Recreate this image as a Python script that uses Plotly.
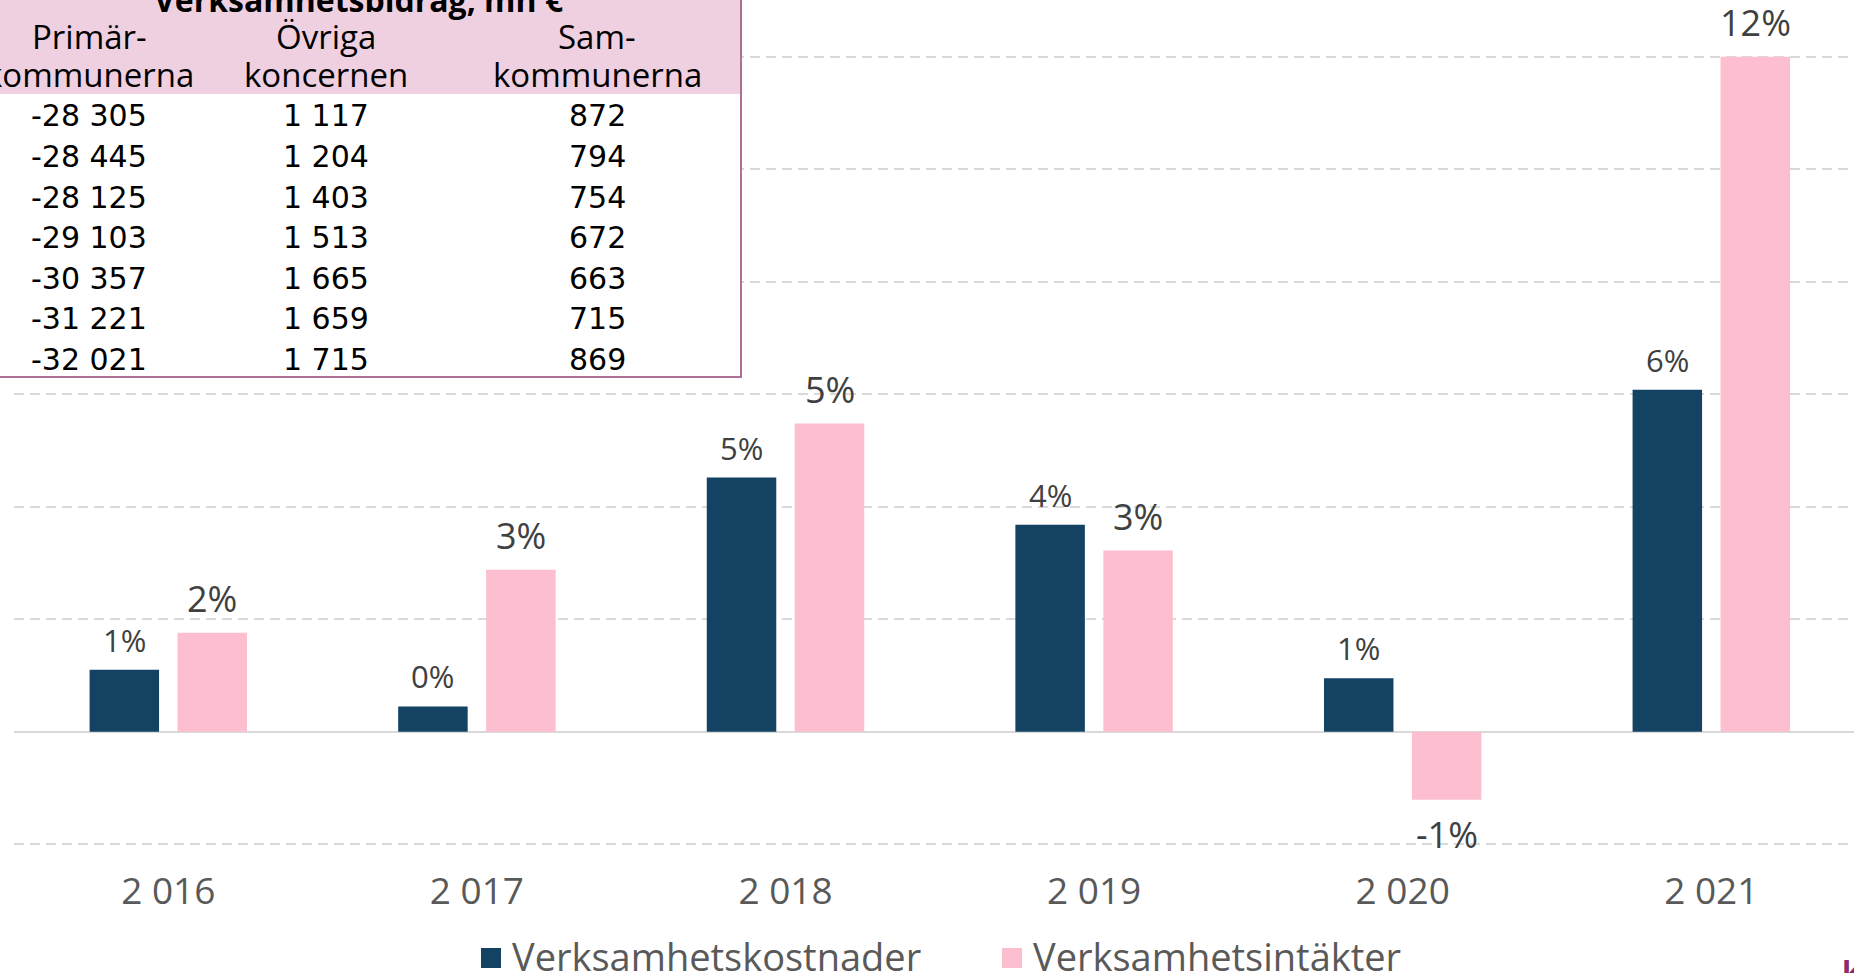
import plotly.graph_objects as go

# ---------------- data ----------------
years = ["2 016", "2 017", "2 018", "2 019", "2 020", "2 021"]
kostnader = [1.10, 0.45, 4.52, 3.68, 0.95, 6.08]      # Verksamhetskostnader, % change
intakter = [1.76, 2.88, 5.48, 3.22, -1.21, 12.00]     # Verksamhetsintäkter, % change
series_names = ["Verksamhetskostnader", "Verksamhetsintäkter"]
series_colors = ["#134263", "#fdbfcf"]

table_title = "Verksamhetsbidrag, mn €"
table_headers = [["Primär-", "kommunerna"], ["Övriga", "koncernen"], ["Sam-", "kommunerna"]]
col_primar = ["-28 305", "-28 445", "-28 125", "-29 103", "-30 357", "-31 221", "-32 021"]
col_ovriga = ["1 117", "1 204", "1 403", "1 513", "1 665", "1 659", "1 715"]
col_sam = ["872", "794", "754", "672", "663", "715", "869"]

# ---------------- geometry ----------------
W, H = 1854, 973
ML, MR, MT, MB = 14, 0, 54, 126
PW, PH = W - ML - MR, H - MT - MB
CAT_PX = 308.6
x_end = -0.5 + PW / CAT_PX


def px(x):
    return (x - ML) / PW


def py(y):
    return (H - MB - y) / PH


FONT = "Open Sans"
LABEL_COLOR = "#404040"
AXIS_COLOR = "#595959"

fig = go.Figure()
fig.add_trace(go.Bar(x=years, y=kostnader, name=series_names[0],
                     marker=dict(color=series_colors[0], line=dict(width=0)),
                     hoverinfo="skip", showlegend=False))
fig.add_trace(go.Bar(x=years, y=intakter, name=series_names[1],
                     marker=dict(color=series_colors[1], line=dict(width=0)),
                     hoverinfo="skip", showlegend=False))

annotations = []
shapes = []

# bar value labels
for yr, v in zip(years, kostnader):
    annotations.append(dict(x=yr, y=v, xref="x", yref="y", xshift=-44,
                            yshift=30 if v >= 0 else -33, yanchor="middle",
                            text=f"{round(v)}%", showarrow=False,
                            font=dict(family=FONT, size=31, color=LABEL_COLOR)))
for yr, v in zip(years, intakter):
    annotations.append(dict(x=yr, y=v, xref="x", yref="y", xshift=44,
                            yshift=34 if v >= 0 else -35, yanchor="middle",
                            text=f"{round(v)}%", showarrow=False,
                            font=dict(family=FONT, size=36, color=LABEL_COLOR)))

# ---------------- table (overlay) ----------------
shapes.append(dict(type="rect", xref="paper", yref="paper", layer="above",
                   x0=px(-30), x1=px(741), y0=py(94), y1=py(-30),
                   fillcolor="#efd0e1", line=dict(width=0)))
shapes.append(dict(type="rect", xref="paper", yref="paper", layer="above",
                   x0=px(-30), x1=px(741), y0=py(377), y1=py(94),
                   fillcolor="#ffffff", line=dict(width=0)))
shapes.append(dict(type="line", xref="paper", yref="paper", layer="above",
                   x0=px(741), x1=px(741), y0=py(378), y1=py(-30),
                   line=dict(color="#b07096", width=2)))
shapes.append(dict(type="line", xref="paper", yref="paper", layer="above",
                   x0=px(-30), x1=px(742), y0=py(377), y1=py(377),
                   line=dict(color="#b07096", width=2)))

annotations.append(dict(x=px(359), y=py(-0.5), xref="paper", yref="paper",
                        xanchor="center", yanchor="middle", showarrow=False,
                        text=f"<b>{table_title}</b>",
                        font=dict(family=FONT, size=32, color="#000000")))

col_x = [89, 326, 597]
for cx, (l1, l2) in zip(col_x, table_headers):
    annotations.append(dict(x=px(cx), y=py(36.5), xref="paper", yref="paper",
                            xanchor="center", yanchor="middle", showarrow=False,
                            text=l1, font=dict(family=FONT, size=33, color="#000000")))
    annotations.append(dict(x=px(cx), y=py(74), xref="paper", yref="paper",
                            xanchor="center", yanchor="middle", showarrow=False,
                            text=l2, font=dict(family=FONT, size=33, color="#000000")))

row_y = [116, 156.3, 197.5, 237.7, 278, 318.2, 359.5]
for cx, col in zip(col_x, [col_primar, col_ovriga, col_sam]):
    for ry, val in zip(row_y, col):
        annotations.append(dict(x=px(cx), y=py(ry), xref="paper", yref="paper",
                                xanchor="center", yanchor="middle", showarrow=False,
                                text=val,
                                font=dict(family="DejaVu Sans", size=30, color="#000000")))

# ---------------- legend (custom) ----------------
legend_items = [(481, 510), (1002, 1031)]
for (sx, tx), name, col in zip(legend_items, series_names, series_colors):
    shapes.append(dict(type="rect", xref="paper", yref="paper", layer="above",
                       x0=px(sx), x1=px(sx + 20), y0=py(968), y1=py(948),
                       fillcolor=col, line=dict(width=0)))
    annotations.append(dict(x=px(tx), y=py(955.5), xref="paper", yref="paper",
                            xanchor="left", yanchor="middle", showarrow=False,
                            text=name, font=dict(family=FONT, size=38, color=AXIS_COLOR)))

# partial logo in the corner
annotations.append(dict(x=px(1840), y=py(971), xref="paper", yref="paper",
                        xanchor="left", yanchor="middle", showarrow=False,
                        text="<b>k</b>", font=dict(family=FONT, size=30, color="#8c2a6a")))

fig.update_layout(
    width=W, height=H,
    margin=dict(l=ML, r=MR, t=MT, b=MB, pad=0),
    paper_bgcolor="#ffffff", plot_bgcolor="#ffffff",
    barmode="group", bargap=0.43, bargroupgap=0.21,
    showlegend=False,
    xaxis=dict(type="category", range=[-0.5, x_end], showgrid=False,
               showline=False, zeroline=False, ticks="",
               ticklabelstandoff=19,
               tickfont=dict(family=FONT, size=37, color=AXIS_COLOR)),
    yaxis=dict(range=[-2.05, 12.05], dtick=2, tick0=0, showticklabels=False,
               showgrid=True, gridcolor="#d9d9d9", gridwidth=1.5, griddash="10px,6px",
               zeroline=True, zerolinecolor="#d9d9d9", zerolinewidth=2,
               showline=False, ticks=""),
    annotations=annotations,
    shapes=shapes,
)

fig.write_html("out.html", config={"displayModeBar": False},
               post_script="document.body.style.margin='0px';document.body.style.overflow='hidden';")
